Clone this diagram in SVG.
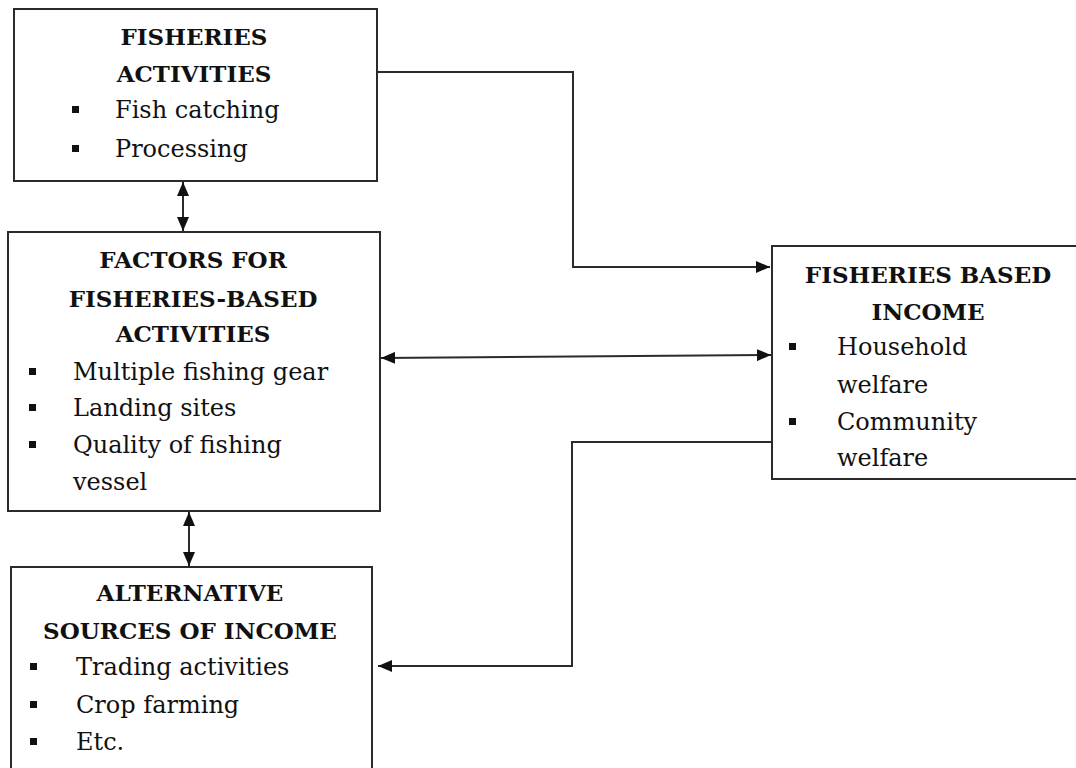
<svg xmlns="http://www.w3.org/2000/svg" width="1076" height="768" viewBox="0 0 1076 768">
  <style>
    .box { fill: #ffffff; stroke: #2b2b2b; stroke-width: 2; }
    .title { font-family: "DejaVu Serif", "Liberation Serif", serif; font-size: 23px; font-weight: bold; fill: #111; text-anchor: middle; }
    .item { font-family: "DejaVu Serif", "Liberation Serif", serif; font-size: 24px; fill: #111; }
    .bullet { fill: #111; }
    .conn { fill: none; stroke: #2b2b2b; stroke-width: 2; }
  </style>
  <defs>
    <marker id="arrowEnd" viewBox="0 0 14 12" refX="14" refY="6" markerWidth="14" markerHeight="12" markerUnits="userSpaceOnUse" orient="auto">
      <path d="M0,0 L14,6 L0,12 Z" fill="#111"/>
    </marker>
    <marker id="arrowStart" viewBox="0 0 14 12" refX="0" refY="6" markerWidth="14" markerHeight="12" markerUnits="userSpaceOnUse" orient="auto">
      <path d="M14,0 L0,6 L14,12 Z" fill="#111"/>
    </marker>
  </defs>
  <rect width="1076" height="768" fill="#ffffff"/>

  <g id="connectors">
    <path class="conn" d="M377,72 H573 V267 H770" marker-end="url(#arrowEnd)"/>
    <line class="conn" x1="381" y1="358" x2="771" y2="355" marker-start="url(#arrowStart)" marker-end="url(#arrowEnd)"/>
    <path class="conn" d="M772,442 H572 V666 H378" marker-end="url(#arrowEnd)"/>
    <line class="conn" x1="183" y1="182" x2="183" y2="231" marker-start="url(#arrowStart)" marker-end="url(#arrowEnd)"/>
    <line class="conn" x1="189" y1="512" x2="189" y2="566" marker-start="url(#arrowStart)" marker-end="url(#arrowEnd)"/>
  </g>

  <g id="fisheries-activities">
    <rect class="box" x="14" y="9" width="363" height="172"/>
    <text class="title" x="194" y="45">FISHERIES</text>
    <text class="title" x="194" y="82">ACTIVITIES</text>
    <rect class="bullet" x="72" y="106" width="7" height="7"/>
    <text class="item" x="115" y="118">Fish catching</text>
    <rect class="bullet" x="72" y="145" width="7" height="7"/>
    <text class="item" x="115" y="157">Processing</text>
  </g>

  <g id="factors">
    <rect class="box" x="8" y="232" width="372" height="279"/>
    <text class="title" x="193" y="268">FACTORS FOR</text>
    <text class="title" x="193" y="307">FISHERIES-BASED</text>
    <text class="title" x="193" y="342">ACTIVITIES</text>
    <rect class="bullet" x="29" y="368" width="7" height="7"/>
    <text class="item" x="73" y="380">Multiple fishing gear</text>
    <rect class="bullet" x="29" y="404" width="7" height="7"/>
    <text class="item" x="73" y="416">Landing sites</text>
    <rect class="bullet" x="29" y="441" width="7" height="7"/>
    <text class="item" x="73" y="453">Quality of fishing</text>
    <text class="item" x="73" y="490">vessel</text>
  </g>

  <g id="alternative-sources">
    <rect class="box" x="11" y="567" width="361" height="215"/>
    <text class="title" x="190" y="601">ALTERNATIVE</text>
    <text class="title" x="190" y="639">SOURCES OF INCOME</text>
    <rect class="bullet" x="30" y="663" width="7" height="7"/>
    <text class="item" x="76" y="675">Trading activities</text>
    <rect class="bullet" x="30" y="701" width="7" height="7"/>
    <text class="item" x="76" y="713">Crop farming</text>
    <rect class="bullet" x="30" y="738" width="7" height="7"/>
    <text class="item" x="76" y="750">Etc.</text>
  </g>

  <g id="fisheries-income">
    <rect class="box" x="772" y="246" width="320" height="233"/>
    <text class="title" x="928" y="283">FISHERIES BASED</text>
    <text class="title" x="928" y="320">INCOME</text>
    <rect class="bullet" x="789" y="343" width="7" height="7"/>
    <text class="item" x="837" y="355">Household</text>
    <text class="item" x="837" y="393">welfare</text>
    <rect class="bullet" x="789" y="418" width="7" height="7"/>
    <text class="item" x="837" y="430">Community</text>
    <text class="item" x="837" y="466">welfare</text>
  </g>
</svg>
